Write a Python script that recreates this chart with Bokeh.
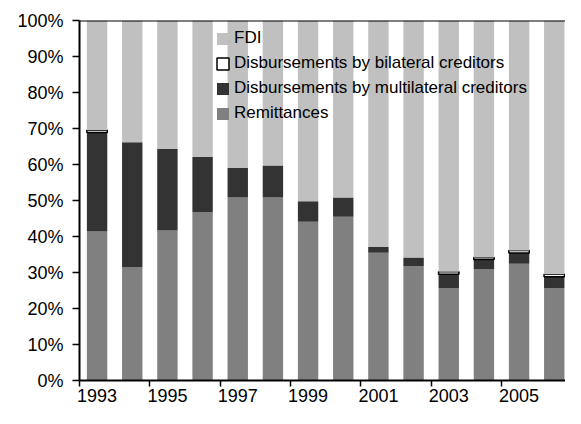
from bokeh.plotting import figure
from bokeh.models import (Range1d, FixedTicker, PrintfTickFormatter, Legend,
                          LegendItem, Span, ColumnDataSource)
from bokeh.transform import stack
from bokeh.embed import file_html
from bokeh.resources import INLINE

years = [1993, 1994, 1995, 1996, 1997, 1998, 1999, 2000, 2001, 2002, 2003, 2004, 2005, 2006]
remittances = [41.4, 31.5, 41.7, 46.8, 50.8, 50.8, 44.1, 45.5, 35.5, 31.8, 25.7, 31.0, 32.4, 25.7]
multilateral = [27.5, 34.7, 22.6, 15.3, 8.2, 8.9, 5.7, 5.3, 1.6, 2.4, 3.8, 2.6, 3.0, 3.1]
bilateral = [0.6, 0, 0, 0, 0, 0, 0, 0, 0, 0, 0.7, 0.6, 0.7, 0.7]
fdi = [30.5, 33.8, 35.7, 37.9, 41.0, 40.3, 50.2, 49.2, 62.9, 65.8, 69.8, 65.8, 63.9, 70.5]

y_ticks = [0, 10, 20, 30, 40, 50, 60, 70, 80, 90, 100]
x_label_years = [1993, 1995, 1997, 1999, 2001, 2003, 2005]
x_boundaries = [1992.5, 1994.5, 1996.5, 1998.5, 2000.5, 2002.5, 2004.5, 2006.5]

series_names = ["FDI", "Disbursements by bilateral creditors",
                "Disbursements by multilateral creditors", "Remittances"]

src = ColumnDataSource(dict(
    year=years, rem=remittances, multi=multilateral, bil=bilateral, fdi=fdi,
    bil_line=[1.0 if b > 0 else 0.0 for b in bilateral],
))

p = figure(width=565, height=408, output_backend="svg", toolbar_location=None,
           x_range=Range1d(1992.5, 2006.32), y_range=Range1d(0, 100),
           min_border_left=79, min_border_right=0, min_border_top=20,
           min_border_bottom=28)
p.outline_line_color = None
p.xgrid.visible = False
p.ygrid.visible = False
p.background_fill_color = "white"
p.border_fill_color = "white"

W = 0.58
r_rem = p.vbar(x="year", bottom=0, top=stack("rem"), width=W, source=src,
               fill_color="#808080", line_color=None)
r_multi = p.vbar(x="year", bottom=stack("rem"), top=stack("rem", "multi"), width=W,
                 source=src, fill_color="#333333", line_color=None)
r_bil = p.vbar(x="year", bottom=stack("rem", "multi"), top=stack("rem", "multi", "bil"),
               width=W, source=src, fill_color="white", line_color="black",
               line_alpha="bil_line", line_width=1.5)
r_fdi = p.vbar(x="year", bottom=stack("rem", "multi", "bil"),
               top=stack("rem", "multi", "bil", "fdi"), width=W, source=src,
               fill_color="#c0c0c0", line_color=None)

p.add_layout(Span(location=100, dimension="width", line_color="black", line_width=2))

font = "Liberation Sans"
# y axis
ya = p.yaxis[0]
ya.ticker = FixedTicker(ticks=y_ticks)
ya.formatter = PrintfTickFormatter(format="%d%%")
ya.major_label_text_font = font
ya.major_label_text_font_size = "18px"
ya.major_label_text_color = "black"
ya.axis_line_color = "black"
ya.axis_line_width = 2
ya.major_tick_line_color = "black"
ya.major_tick_line_width = 1.5
ya.major_tick_in = 0
ya.major_tick_out = 7
ya.minor_tick_line_color = None
ya.major_label_standoff = 9

# x axis
xa = p.xaxis[0]
xa.ticker = FixedTicker(ticks=x_label_years, minor_ticks=x_boundaries)
xa.major_label_text_font = font
xa.major_label_text_font_size = "18px"
xa.major_label_text_color = "black"
xa.axis_line_color = "black"
xa.axis_line_width = 2
xa.major_tick_line_color = None
xa.major_tick_in = 0
xa.major_tick_out = 6
xa.minor_tick_line_color = "black"
xa.minor_tick_line_width = 1.5
xa.minor_tick_in = 0
xa.minor_tick_out = 6
xa.major_label_standoff = 2

legend = Legend(items=[
    LegendItem(label=series_names[0], renderers=[r_fdi]),
    LegendItem(label=series_names[1], renderers=[r_bil]),
    LegendItem(label=series_names[2], renderers=[r_multi]),
    LegendItem(label=series_names[3], renderers=[r_rem]),
], location=(136, 257))
legend.label_text_font = font
legend.label_text_font_size = "17px"
legend.label_text_color = "black"
legend.glyph_width = 15
legend.glyph_height = 15
legend.label_height = 20
legend.label_standoff = 4
legend.spacing = 5
legend.padding = 0
legend.margin = 0
legend.border_line_color = None
legend.background_fill_alpha = 0
p.add_layout(legend)

open("out.html", "w").write(file_html(p, INLINE))
